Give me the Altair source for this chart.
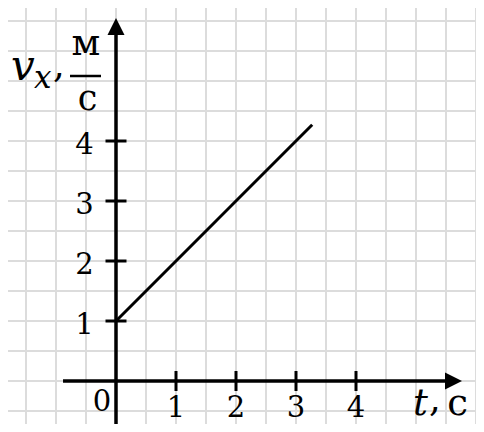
import altair as alt
import pandas as pd

# ---- data ----
t_ticks = [1, 2, 3, 4]
v_ticks = [1, 2, 3, 4]
line_t = [0.0, 3.27]
line_v = [1.0, 4.27]
grid_t = [-1.5, -1.0, -0.5, 0.0, 0.5, 1.0, 1.5, 2.0, 2.5, 3.0, 3.5, 4.0, 4.5, 5.0, 5.5, 6.0]
grid_v = [-0.5, 0.0, 0.5, 1.0, 1.5, 2.0, 2.5, 3.0, 3.5, 4.0, 4.5, 5.0, 5.5, 6.0]

X_DOMAIN = [-1.8, 6.0]
Y_DOMAIN = [-0.7167, 6.2167]
AXIS_T = [-0.883, 5.767]   # x-axis extent (tip of arrow at right)
AXIS_V = [-0.7167, 6.05]   # y-axis extent (tip of arrow at top)

SERIF = "DejaVu Serif"
GRID = "#dcdcdc"

xs = alt.Scale(domain=X_DOMAIN, nice=False, zero=False)
ys = alt.Scale(domain=Y_DOMAIN, nice=False, zero=False)
hidden = alt.Axis(labels=False, ticks=False, domain=False, grid=False, title=None)

line_df = pd.DataFrame({"t": line_t, "v": line_v})
one = pd.DataFrame({"a": [0]})

# grid
vgrid = alt.Chart(pd.DataFrame({"t": grid_t})).mark_rule(color=GRID, strokeWidth=2).encode(
    x=alt.X("t:Q", scale=xs, axis=hidden)
)
hgrid = alt.Chart(pd.DataFrame({"v": grid_v})).mark_rule(color=GRID, strokeWidth=2).encode(
    y=alt.Y("v:Q", scale=ys, axis=hidden)
)

# data line
line = alt.Chart(line_df).mark_line(color="black", strokeWidth=3).encode(
    x="t:Q", y="v:Q"
)

# axis lines
y_axis = alt.Chart(one).mark_rule(color="black", strokeWidth=3.5).encode(
    x=alt.datum(0), y=alt.datum(AXIS_V[0]), y2=alt.datum(AXIS_V[1] - 0.15)
)
x_axis = alt.Chart(one).mark_rule(color="black", strokeWidth=3.5).encode(
    y=alt.datum(0), x=alt.datum(AXIS_T[0]), x2=alt.datum(AXIS_T[1] - 0.15)
)
y_arrow = alt.Chart(one).mark_point(shape="M0,0L-1,2L1,2Z", size=289, filled=True, color="black",
                                    opacity=1, strokeWidth=0).encode(
    x=alt.datum(0), y=alt.datum(AXIS_V[1])
)
x_arrow = alt.Chart(one).mark_point(shape="M0,0L-2,-1L-2,1Z", size=289, filled=True, color="black",
                                    opacity=1, strokeWidth=0).encode(
    x=alt.datum(AXIS_T[1]), y=alt.datum(0)
)

# ticks
y_tick_df = pd.DataFrame({"v": v_ticks})
x_tick_df = pd.DataFrame({"t": t_ticks})
y_ticks = alt.Chart(y_tick_df).mark_tick(orient="horizontal", size=21, thickness=3, color="black", opacity=1).encode(
    x=alt.datum(0), y="v:Q"
)
x_ticks = alt.Chart(x_tick_df).mark_tick(orient="vertical", size=20, thickness=3, color="black", opacity=1).encode(
    x="t:Q", y=alt.datum(0)
)

# tick labels
y_labels = alt.Chart(y_tick_df).mark_text(font=SERIF, fontSize=29, align="center", baseline="alphabetic",
                                          dx=-31.5, dy=13, color="black").encode(
    x=alt.datum(0), y="v:Q", text="v:Q"
)
x_labels = alt.Chart(x_tick_df).mark_text(font=SERIF, fontSize=29, align="center", baseline="alphabetic",
                                          dy=36, color="black").encode(
    x="t:Q", y=alt.datum(0), text="t:Q"
)
zero_label = alt.Chart(one).mark_text(font=SERIF, fontSize=29, align="center", baseline="alphabetic",
                                      dx=-14, dy=30, color="black", text="0").encode(
    x=alt.datum(0), y=alt.datum(0)
)


def txt(s, x, y, size, italic=False, align="left"):
    return alt.Chart(one).mark_text(font=SERIF, fontSize=size, fontStyle="italic" if italic else "normal",
                                    align=align, baseline="alphabetic", color="black", text=s).encode(
        x=alt.value(x), y=alt.value(y)
    )


# y-axis title  v_x, м/с
yt_v = txt("v", 3, 72, 42, italic=True)
yt_x = txt("x", 26, 80, 31, italic=True)
yt_comma = txt(",", 45, 69, 37)
yt_m = txt("м", 78, 47, 37, align="center")
yt_c = txt("с", 79.5, 102, 35, align="center")
yt_bar = alt.Chart(one).mark_rule(color="black", strokeWidth=2.5).encode(
    x=alt.value(62), x2=alt.value(93), y=alt.value(68)
)

# x-axis title  t, с
xt_t = txt("t", 405, 407, 37, italic=True)
xt_comma = txt(",", 421, 403, 37)
xt_c = txt("с", 449.5, 407, 37, align="center")

chart = alt.layer(
    vgrid, hgrid, line, y_axis, x_axis, y_arrow, x_arrow, y_ticks, x_ticks,
    y_labels, x_labels, zero_label,
    yt_v, yt_x, yt_comma, yt_m, yt_c, yt_bar,
    xt_t, xt_comma, xt_c,
).properties(
    width=468, height=416, padding=0, autosize="none"
).configure_view(stroke=None)

chart.save("out.html", embed_options={"renderer": "svg", "actions": False})
